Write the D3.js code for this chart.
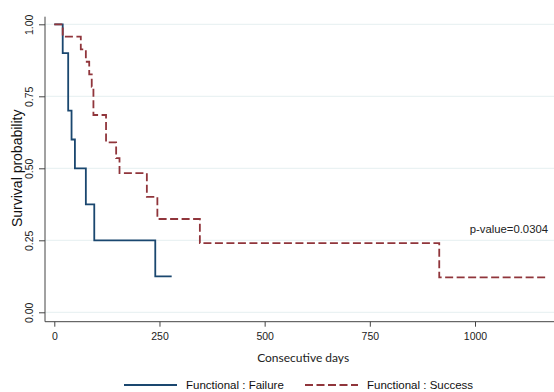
<!DOCTYPE html>
<meta charset="utf-8">
<style>
body { margin: 0; background: #fff; }
svg { display: block; font-family: "Liberation Sans", Arial, sans-serif; }
.tick text { font-size: 10.5px; fill: #222; }
</style>
<body>
<script src="https://cdn.jsdelivr.net/npm/d3@7"></script>
<script>

// Kaplan-Meier steps
var failureDays = [0, 20, 33, 41, 49, 75, 95, 240, 279];
var failureSurv = [1.0, 0.9, 0.7, 0.6, 0.5, 0.375, 0.25, 0.125, 0.125];

var successDays = [0, 20, 63, 75, 83, 89, 93, 123, 147, 155, 220, 245, 346, 915, 1173];
var successSurv = [1.0, 0.957, 0.913, 0.870, 0.826, 0.783, 0.685, 0.590, 0.535, 0.483, 0.401, 0.324, 0.240, 0.121, 0.121];

var xTicks = [0, 250, 500, 750, 1000];
var yTicks = [0, 0.25, 0.5, 0.75, 1];
var seriesNames = ["Functional : Failure", "Functional : Success"];
var pValueLabel = "p-value=0.0304";

var W = 554, H = 392;
var navy = "#1a476f", maroon = "#90353b", grid = "#eaf2f3";

var svg = d3.select("body").append("svg")
    .attr("width", W)
    .attr("height", H);

var x = d3.scaleLinear().domain([0, 1000]).range([54.3, 475]);
var y = d3.scaleLinear().domain([0, 1]).range([312.3, 24.3]);

var axisX = x(0) - 9.3,   // y axis position
    axisY = y(0) + 9.4;   // x axis position

// gridlines
svg.append("g").selectAll("line")
    .data(yTicks).enter()
    .append("line")
    .attr("x1", axisX).attr("x2", W)
    .attr("y1", function(d) { return y(d); })
    .attr("y2", function(d) { return y(d); })
    .attr("stroke", grid)
    .attr("stroke-width", 1.2);

// y axis
var gy = svg.append("g")
    .attr("transform", "translate(" + axisX + ",0)")
    .call(d3.axisLeft(y).tickValues(yTicks).tickFormat(d3.format(".2f")).tickSize(6));
gy.select(".domain").remove();
gy.selectAll(".tick line").attr("stroke", "#444");
gy.selectAll(".tick text")
    .attr("x", null).attr("dy", null)
    .attr("text-anchor", "middle")
    .attr("transform", "translate(-12,0) rotate(-90)")
    .attr("dy", "0em");
gy.append("line")
    .attr("x1", 0).attr("x2", 0)
    .attr("y1", y(1) - 7.6).attr("y2", axisY)
    .attr("stroke", "#444");

// x axis
var gx = svg.append("g")
    .attr("transform", "translate(0," + axisY + ")")
    .call(d3.axisBottom(x).tickValues(xTicks).tickFormat(d3.format("d")).tickSize(5).tickPadding(6));
gx.select(".domain").remove();
gx.selectAll(".tick line").attr("stroke", "#444");
gx.append("line")
    .attr("x1", axisX).attr("x2", W)
    .attr("y1", 0).attr("y2", 0)
    .attr("stroke", "#444");

// axis titles
svg.append("text")
    .attr("transform", "translate(22," + y(0.5) + ") rotate(-90)")
    .attr("text-anchor", "middle")
    .attr("font-size", 14)
    .attr("fill", "#111")
    .text("Survival probability");

svg.append("text")
    .attr("x", (x(0) + 554) / 2 - 1)
    .attr("y", 362)
    .attr("text-anchor", "middle")
    .attr("font-family", "Lato, sans-serif")
    .attr("font-size", 12)
    .attr("fill", "#222")
    .text("Consecutive days");

// curves
var line = d3.line()
    .x(function(d) { return x(d[0]); })
    .y(function(d) { return y(d[1]); })
    .curve(d3.curveStepAfter);

svg.append("path")
    .datum(d3.zip(failureDays, failureSurv))
    .attr("d", line)
    .attr("fill", "none")
    .attr("stroke", navy)
    .attr("stroke-width", 1.8);

svg.append("path")
    .datum(d3.zip(successDays, successSurv))
    .attr("d", line)
    .attr("fill", "none")
    .attr("stroke", maroon)
    .attr("stroke-width", 1.8)
    .attr("stroke-dasharray", "8,3.5");

// p-value
svg.append("text")
    .attr("x", 548)
    .attr("y", 233)
    .attr("text-anchor", "end")
    .attr("font-size", 11.3)
    .attr("fill", "#222")
    .text(pValueLabel);

// legend
var legend = svg.append("g");
var legendItems = [
  {name: seriesNames[0], color: navy, dash: null, x0: 124},
  {name: seriesNames[1], color: maroon, dash: "8,3.5", x0: 305}
];
legendItems.forEach(function(it) {
  legend.append("line")
    .attr("x1", it.x0).attr("x2", it.x0 + 53)
    .attr("y1", 385).attr("y2", 385)
    .attr("stroke", it.color)
    .attr("stroke-width", 1.8)
    .attr("stroke-dasharray", it.dash);
  legend.append("text")
    .attr("x", it.x0 + 62)
    .attr("y", 389)
    .attr("font-size", 11.5)
    .attr("fill", "#111")
    .text(it.name);
});

</script>
</body>
